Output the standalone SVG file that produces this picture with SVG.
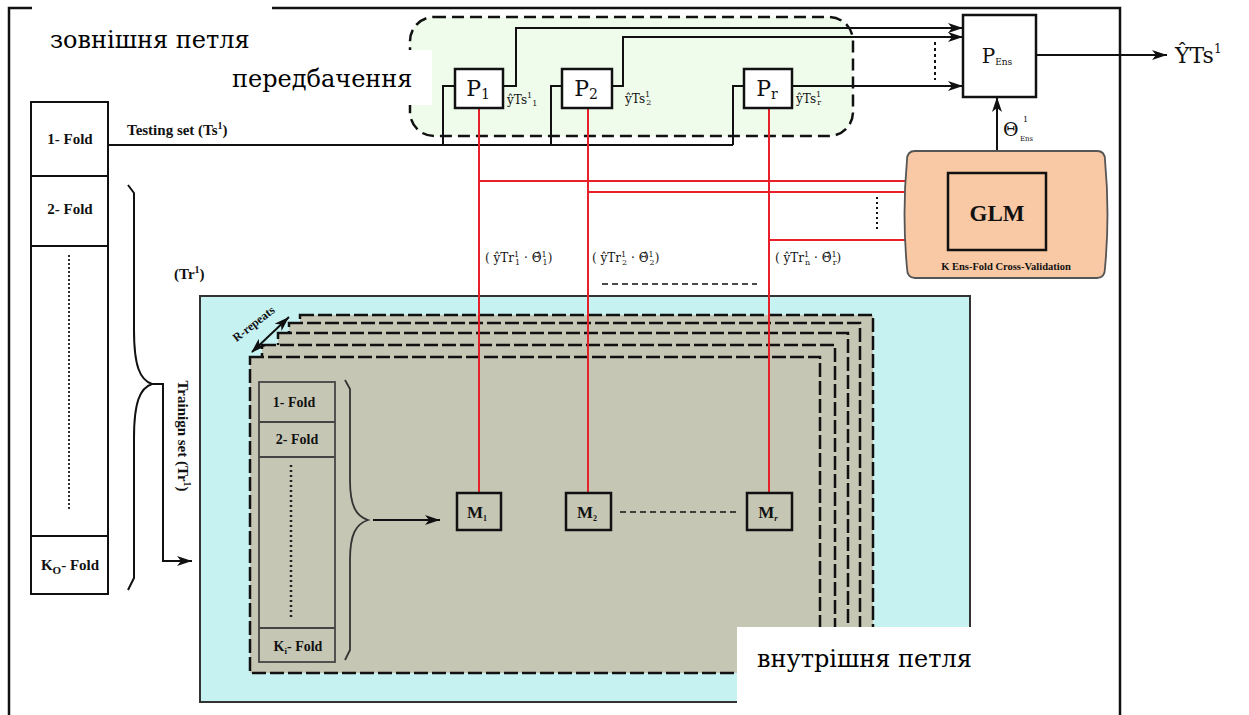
<svg xmlns="http://www.w3.org/2000/svg" width="1249" height="715" viewBox="0 0 1249 715">
<style>
.t{font-family:"Liberation Serif","DejaVu Serif",serif;fill:#111}
.r{font-family:"DejaVu Serif","Liberation Serif",serif;fill:#111}
.b{font-weight:bold}
.ua{font-family:"DejaVu Serif","Liberation Serif",serif;font-size:24px;fill:#000}
.ln{fill:none;stroke:#111;stroke-width:2}
.red{fill:none;stroke:#e8202a;stroke-width:2}
.box{fill:#fff;stroke:#111;stroke-width:2.5}
.gbox{fill:#c5c6b4;stroke:#111;stroke-width:2.5}
.layer{fill:#c5c6b4;stroke:#111;stroke-width:2.5;stroke-dasharray:14 4}
.fold{fill:#fff;stroke:#111;stroke-width:2}
.ifold{fill:#c5c6b4;stroke:#444;stroke-width:1.8}
</style>
<defs>
<marker id="ah" markerWidth="16" markerHeight="10" refX="15" refY="5" orient="auto" markerUnits="userSpaceOnUse">
<path d="M0,0 L15,5 L0,10 L4,5 z" fill="#111"/>
</marker>
<marker id="ahs" markerWidth="16" markerHeight="10" refX="1" refY="5" orient="auto" markerUnits="userSpaceOnUse">
<path d="M15,0 L0,5 L15,10 L11,5 z" fill="#111"/>
</marker>
</defs>

<!-- outer frame -->
<path d="M9,715 V8 H1120 V715" fill="none" stroke="#111" stroke-width="2.5"/>

<!-- cyan inner-loop area -->
<g id="inner-area">
<rect x="200" y="296" width="770" height="406" fill="#c6f2f2" stroke="#333" stroke-width="2"/>
<rect class="layer" x="300" y="315" width="573" height="320"/>
<rect class="layer" x="289" y="323" width="571" height="322"/>
<rect class="layer" x="278" y="333" width="570" height="324"/>
<rect class="layer" x="262" y="345" width="573" height="320"/>
<rect class="layer" x="250" y="357" width="570" height="316"/>
</g>

<!-- green prediction area -->
<g id="prediction-area">
<rect x="410" y="17" width="443" height="119" rx="24" fill="#effbeb" stroke="#111" stroke-width="2.5" stroke-dasharray="12 6"/>
</g>

<!-- connectors -->
<g id="connectors">
<path class="ln" d="M108,145 H733"/>
<path class="ln" d="M443,145 V86 H455"/>
<path class="ln" d="M551,145 V86 H562"/>
<path class="ln" d="M733,145 V86 H744"/>
<path class="ln" d="M503,86 H516 V28 H963" marker-end="url(#ah)"/>
<path class="ln" d="M612,86 H623 V37 H963" marker-end="url(#ah)"/>
<path class="ln" d="M792,86 H963" marker-end="url(#ah)"/>
<path d="M935,42 V80" fill="none" stroke="#111" stroke-width="2" stroke-dasharray="3 3"/>
<path class="ln" d="M1036,55 H1167" marker-end="url(#ah)"/>
<path class="ln" d="M997,152 V97" marker-end="url(#ah)"/>
<path class="red" d="M479,108 V493"/>
<path class="red" d="M588,108 V493"/>
<path class="red" d="M769,108 V493"/>
<path class="red" d="M479,181 H905"/>
<path class="red" d="M588,192 H905"/>
<path class="red" d="M769,240 H905"/>
<path d="M877,197 V232" fill="none" stroke="#111" stroke-width="2" stroke-dasharray="2 3"/>
<path d="M602,284 H757" fill="none" stroke="#111" stroke-width="1.5" stroke-dasharray="6 4"/>
<path class="ln" d="M128,185 L134,193 V330 C134,366 140,380 152,384 C140,388 134,402 134,438 V578 L128,590"/>
<path class="ln" d="M152,384 H163 V561 H192" marker-end="url(#ah)"/>
<path d="M345,380 L350,389 V480 C350,506 356,516 368,520 C356,524 350,534 350,560 V650 L345,660" fill="none" stroke="#333" stroke-width="1.8"/>
<path class="ln" d="M373,520 H440" marker-end="url(#ah)"/>
<path class="ln" d="M252,352 L289,317" marker-start="url(#ahs)" marker-end="url(#ah)"/>
<path d="M620,512 H737" fill="none" stroke="#111" stroke-width="1.5" stroke-dasharray="6 4"/>
</g>

<!-- left fold column -->
<g id="outer-folds">
<rect class="fold" x="31" y="102" width="77" height="492"/>
<path class="ln" d="M31,176 H108 M31,246 H108 M31,536 H108"/>
<path d="M69,255 V510" fill="none" stroke="#333" stroke-width="2" stroke-dasharray="2 2"/>
<text class="t b" x="70" y="144" font-size="15" text-anchor="middle">1- Fold</text>
<text class="t b" x="70" y="214" font-size="15" text-anchor="middle">2- Fold</text>
<text class="t b" x="70" y="570" font-size="15" text-anchor="middle">K<tspan font-size="11" dy="4">O</tspan><tspan dy="-4">- Fold</tspan></text>
</g>

<g id="labels-left">
<text class="t b" x="127" y="135" font-size="15">Testing set  (Ts<tspan font-size="10" dy="-6">1</tspan><tspan dy="6">)</tspan></text>
<text class="t b" x="174" y="279" font-size="15">(Tr<tspan font-size="10" dy="-6">1</tspan><tspan dy="6">)</tspan></text>
<text class="t b" font-size="15" text-anchor="middle" transform="translate(178,436) rotate(90)">Trainign set  (Tr<tspan font-size="10" dy="-6">1</tspan><tspan dy="6">)</tspan></text>
<text class="t b" font-size="12" text-anchor="middle" transform="translate(256,327) rotate(-38)">R-repeats</text>
</g>

<!-- inner fold column -->
<g id="inner-folds">
<rect class="ifold" x="259" y="382" width="76" height="280"/>
<path d="M259,422 H335 M259,457 H335 M259,628 H335" fill="none" stroke="#444" stroke-width="1.8"/>
<path d="M291,465 V620" fill="none" stroke="#222" stroke-width="2.5" stroke-dasharray="2 3"/>
<text class="t b" x="294" y="407" font-size="14" text-anchor="middle">1- Fold</text>
<text class="t b" x="297" y="444" font-size="14" text-anchor="middle">2- Fold</text>
<text class="t b" x="298" y="651" font-size="14" text-anchor="middle">K<tspan font-size="9" dy="3">i</tspan><tspan dy="-3">- Fold</tspan></text>
</g>

<!-- model nodes -->
<g id="M1"><rect class="gbox" x="457" y="493" width="44" height="37"/><text class="t b" x="477" y="518" font-size="17" text-anchor="middle">M<tspan font-size="8" dy="3">1</tspan></text></g>
<g id="M2"><rect class="gbox" x="566" y="493" width="45" height="37"/><text class="t b" x="587" y="518" font-size="17" text-anchor="middle">M<tspan font-size="8" dy="3">2</tspan></text></g>
<g id="Mr"><rect class="gbox" x="747" y="493" width="45" height="37"/><text class="t b" x="768" y="518" font-size="17" text-anchor="middle">M<tspan font-size="9" dy="3" font-style="italic">r</tspan></text></g>

<!-- prediction nodes -->
<g id="P1"><rect class="box" x="455" y="69" width="48" height="39"/><text class="r" x="478" y="96" font-size="22" text-anchor="middle">P<tspan font-size="14" dy="3">1</tspan></text>
<text class="r" x="507" y="104" font-size="12">ŷTs<tspan font-size="8" dy="-6">1</tspan><tspan font-size="8" dy="8">1</tspan></text></g>
<g id="P2"><rect class="box" x="562" y="69" width="50" height="39"/><text class="r" x="586" y="96" font-size="22" text-anchor="middle">P<tspan font-size="14" dy="3">2</tspan></text>
<text class="r" x="625" y="103" font-size="12">ŷTs<tspan font-size="8" dy="-6">1</tspan><tspan font-size="8" dx="-4" dy="8">2</tspan></text></g>
<g id="Pr"><rect class="box" x="744" y="69" width="48" height="39"/><text class="r" x="767" y="96" font-size="22" text-anchor="middle">P<tspan font-size="14" dy="3">r</tspan></text>
<text class="r" x="796" y="103" font-size="12">ŷTs<tspan font-size="8" dy="-6">1</tspan><tspan font-size="8" dx="-4" dy="8">r</tspan></text></g>

<g id="param-labels">
<text class="r" x="485" y="262" font-size="12">( ŷTr<tspan font-size="8" dy="-5">1</tspan><tspan font-size="8" dx="-4" dy="8">1</tspan><tspan dy="-3"> · Θ̂</tspan><tspan font-size="8" dy="-5">1</tspan><tspan font-size="8" dx="-4" dy="8">1</tspan><tspan dy="-3">)</tspan></text>
<text class="r" x="592" y="262" font-size="12">( ŷTr<tspan font-size="8" dy="-5">1</tspan><tspan font-size="8" dx="-4" dy="8">2</tspan><tspan dy="-3"> · Θ̂</tspan><tspan font-size="8" dy="-5">1</tspan><tspan font-size="8" dx="-4" dy="8">2</tspan><tspan dy="-3">)</tspan></text>
<text class="r" x="775" y="262" font-size="12">( ŷTr<tspan font-size="8" dy="-5">1</tspan><tspan font-size="8" dx="-4" dy="8">n</tspan><tspan dy="-3"> · Θ̂</tspan><tspan font-size="8" dy="-5">1</tspan><tspan font-size="8" dx="-4" dy="8">r</tspan><tspan dy="-3">)</tspan></text>
</g>

<!-- ensemble node -->
<g id="PEns"><rect class="box" x="963" y="15" width="73" height="82"/><text class="r" x="997" y="63" font-size="20" text-anchor="middle">P<tspan font-size="9" dy="2">Ens</tspan></text></g>
<g id="output"><text class="r" x="1175" y="63" font-size="22">ŶTs<tspan font-size="12" dy="-10">1</tspan></text></g>
<g id="theta-label"><text class="r" x="1003" y="136" font-size="19">Θ<tspan x="1023" y="122" font-size="8">1</tspan><tspan x="1020" y="141" font-size="7">Ens</tspan></text></g>

<g id="GLM">
<path d="M915,151 H1097 Q1105,151 1105,160 Q1110,214 1105,268 Q1105,278 1097,278 H915 Q907,278 907,268 Q902,214 907,160 Q907,151 915,151 Z" fill="#f9c8a4" stroke="#555" stroke-width="1.8"/>
<rect x="948" y="173" width="98" height="77" fill="none" stroke="#111" stroke-width="2.5"/>
<text class="t b" x="997" y="221" font-size="23" text-anchor="middle">GLM</text>
<text class="t b" x="1006" y="270" font-size="10.5" text-anchor="middle">K Ens-Fold Cross-Validation</text>
</g>

<!-- white label patches -->
<g id="label-outer"><rect x="32" y="0" width="240" height="56" fill="#fff"/><text class="ua" x="50" y="48">зовнішня петля</text></g>
<g id="label-pred"><rect x="225" y="50" width="207" height="55" fill="#fff"/><text class="ua" x="232" y="87">передбачення</text></g>
<g id="label-inner"><rect x="737" y="627" width="236" height="77" fill="#fff"/><text class="ua" x="757" y="667">внутрішня петля</text></g>
</svg>
